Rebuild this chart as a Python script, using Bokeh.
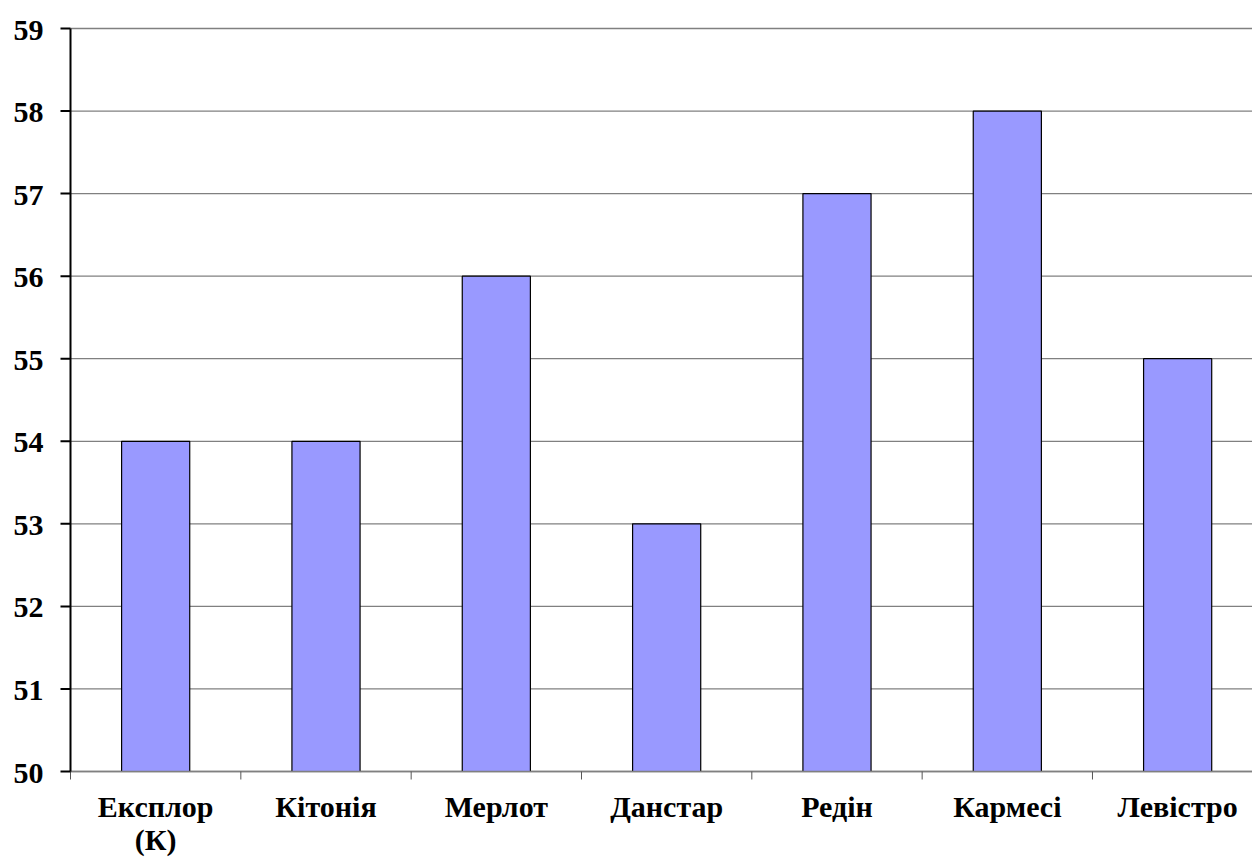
from bokeh.plotting import figure
from bokeh.models import Range1d
from bokeh.core.properties import value
from bokeh.embed import file_html
from bokeh.resources import INLINE

categories = ["Експлор\n(К)", "Кітонія", "Мерлот", "Данстар", "Редін", "Кармесі", "Левістро"]
values = [54, 54, 56, 53, 57, 58, 55]
y_ticks = [50, 51, 52, 53, 54, 55, 56, 57, 58, 59]

n = len(categories)
centers = [i + 0.5 for i in range(n)]
bounds = list(range(n + 1))

FONT = "Liberation Serif"
W, H = 1252, 863
LEFT, TOP, PLOT_BOTTOM = 70, 28, 771
YMIN, YMAX = 50, 59
px_x = 170.33                                  # pixels per category
px_y = (PLOT_BOTTOM - TOP) / (YMAX - YMIN)     # pixels per unit
XMAX = (W - LEFT) / px_x
LINE_STEP = 33                                 # px between label lines

# whole canvas is the frame; axes are drawn by hand
p = figure(width=W, height=H, output_backend="svg", toolbar_location=None,
           x_range=Range1d(-LEFT / px_x, XMAX),
           y_range=Range1d(YMAX - (H - TOP) / px_y, YMAX + TOP / px_y),
           x_axis_type=None, y_axis_type=None, min_border=0)
p.outline_line_color = None
p.background_fill_color = "white"
p.border_fill_color = "white"
p.grid.visible = False

# gridlines
p.segment(x0=[0] * len(y_ticks), x1=[XMAX] * len(y_ticks), y0=y_ticks, y1=y_ticks,
          line_color="#808080", line_width=1.3)

# bars
p.vbar(x=centers, top=values, bottom=YMIN, width=0.4, fill_color="#9999FF",
       line_color="black", line_width=1.2)

# x axis line and category boundary ticks
p.segment(x0=[0], x1=[XMAX], y0=[YMIN], y1=[YMIN], line_color="#808080", line_width=1.3)
p.segment(x0=bounds, x1=bounds, y0=[YMIN] * len(bounds), y1=[YMIN - 8 / px_y] * len(bounds),
          line_color="#555555", line_width=1)

# y axis line and ticks
p.segment(x0=[0], x1=[0], y0=[YMIN], y1=[YMAX], line_color="black", line_width=2)
p.segment(x0=[-10 / px_x] * len(y_ticks), x1=[0] * len(y_ticks), y0=y_ticks, y1=y_ticks,
          line_color="black", line_width=2)

# y tick labels
p.text(x=[-27 / px_x] * len(y_ticks), y=[t - 11 / px_y for t in y_ticks],
       text=[str(t) for t in y_ticks],
       text_font=value(FONT), text_font_style="bold", text_font_size="30px",
       text_color="#000000", text_align="right")

# category labels, one text per line
lx, ly, lt = [], [], []
for c, lab in zip(centers, categories):
    for j, line in enumerate(lab.split("\n")):
        lx.append(c)
        ly.append(YMIN - (51 + j * LINE_STEP) / px_y)
        lt.append(line)
p.text(x=lx, y=ly, text=lt,
       text_font=value(FONT), text_font_style="bold", text_font_size="30px",
       text_color="#000000", text_align="center")

open("out.html", "w").write(file_html(p, INLINE))
